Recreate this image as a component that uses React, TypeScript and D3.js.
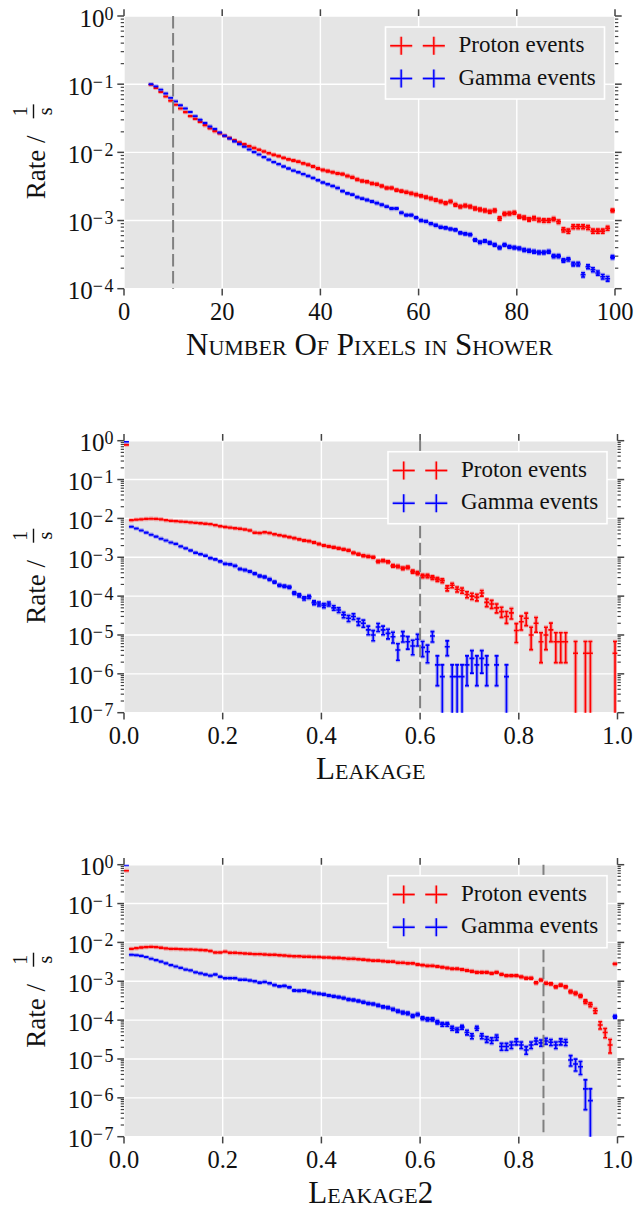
import React from "react";
import * as d3 from "d3";

const PROTON_COLOR = "#ff0000";
const GAMMA_COLOR = "#0000ff";
const BG = "#e5e5e5";
const FONT = "'Liberation Serif', 'DejaVu Serif', serif";

// rate that corresponds to one recorded event (Poisson error bars)
const protonEventRate = 3.37e-6;
const gammaEventRate = 8.5e-7;

// ---------- Panel 1: Number of pixels in shower (bins of width 1, starting at 5) ----------
const pixelsBinStart = 5;
const pixelsBinWidth = 1;
const pixelsProton = [
  0.098, 0.088, 0.077, 0.066, 0.057, 0.05, 0.044, 0.039, 0.034, 0.031,
  0.028, 0.025, 0.0225, 0.0205, 0.019, 0.0175, 0.0162, 0.015, 0.014, 0.0131,
  0.0123, 0.0116, 0.0109, 0.0103, 0.0097, 0.0092, 0.0088, 0.0083, 0.0079, 0.0076,
  0.0073, 0.0069, 0.0066, 0.0062, 0.0058, 0.0055, 0.0053, 0.0051, 0.0049, 0.0048,
  0.0045, 0.0043, 0.004, 0.0038, 0.0037, 0.0035, 0.0034, 0.0032, 0.003, 0.003,
  0.0028, 0.0027, 0.0026, 0.0025, 0.0024, 0.0023, 0.0022, 0.0021, 0.002, 0.0019,
  0.0018, 0.0019, 0.0017, 0.0016, 0.00165, 0.0016, 0.0015, 0.00145, 0.0014, 0.00135,
  0.0014, 0.00107, 0.00125, 0.00127, 0.0013, 0.00114, 0.0011, 0.00104, 0.00108, 0.00102,
  0.001, 0.001, 0.00105, 0.00096, 0.00073, 0.0007, 0.00081, 0.00081, 0.00081, 0.00079,
  0.0007, 0.0007, 0.0007, 0.00077, 0.0014,
];
const pixelsGamma = [
  0.1, 0.093, 0.083, 0.073, 0.063, 0.056, 0.049, 0.044, 0.039, 0.034,
  0.03, 0.027, 0.024, 0.022, 0.0195, 0.0175, 0.016, 0.0145, 0.0132, 0.0121,
  0.011, 0.0101, 0.0093, 0.0085, 0.0078, 0.0072, 0.0067, 0.0062, 0.0058, 0.0054,
  0.0051, 0.0048, 0.0045, 0.0042, 0.0039, 0.0036, 0.0034, 0.0032, 0.003, 0.0027,
  0.0025, 0.0024, 0.0022, 0.0021, 0.002, 0.0019, 0.0018, 0.0017, 0.0016, 0.0015,
  0.0015, 0.0013, 0.0012, 0.0012, 0.0011, 0.001, 0.00097, 0.0009, 0.00085, 0.0008,
  0.00078, 0.00075, 0.00073, 0.00066, 0.00064, 0.00062, 0.00052, 0.00048, 0.0005, 0.00047,
  0.00044, 0.0004, 0.00044, 0.00041, 0.0004, 0.00039, 0.00037, 0.00036, 0.00035, 0.00034,
  0.00034, 0.00035, 0.0003, 0.0003, 0.00026, 0.00027, 0.00023, 0.00023, 0.00016, 0.00021,
  0.00019, 0.00017, 0.00015, 0.00014, 0.00029,
];

// ---------- Panel 2: Leakage (bins of width 0.01 from 0 to 1) ----------
const leakageBinStart = 0;
const leakageBinWidth = 0.01;
const leakageProton = [
  0.78, 0.009, 0.0093, 0.0095, 0.0097, 0.0098, 0.0097, 0.0095, 0.009, 0.0087,
  0.0085, 0.0083, 0.0081, 0.0079, 0.0077, 0.0075, 0.0073, 0.0071, 0.0067, 0.0063,
  0.006, 0.0058, 0.0056, 0.0054, 0.0052, 0.0049, 0.0043, 0.0042, 0.0044, 0.0042,
  0.0039, 0.0037, 0.0035, 0.0033, 0.0031, 0.0029, 0.0027, 0.0026, 0.0024, 0.0022,
  0.002, 0.0019, 0.0018, 0.0017, 0.0016, 0.0015, 0.0013, 0.0012, 0.0011, 0.00105,
  0.001, 0.00078, 0.00082, 0.00076, 0.0006, 0.00058, 0.00052, 0.00055, 0.00043, 0.00039,
  0.00033, 0.00033, 0.0003, 0.00027, 0.00025, 0.00016, 0.00019, 0.00015, 0.00014, 0.00011,
  0.0001, 0.000093, 0.00012, 0.000069, 0.000063, 0.00005, 0.00004, 0.00003, 0.000037, 0.000013,
  0.000022, 0.000027, 0.00001, 0.00002, 0.0000067, 0.00001, 0.0000135, 0.0000067, 0.0000067, 0.0000067,
  0, 0.0000034, 0, 0.0000034, 0.0000034, 0, 0, 0, 0, 0.0000034,
];
const leakageGamma = [
  0.94, 0.0061, 0.0055, 0.0049, 0.0043, 0.0038, 0.0034, 0.003, 0.0027, 0.0024,
  0.0022, 0.0019, 0.0017, 0.0015, 0.0013, 0.0012, 0.0011, 0.00095, 0.00088, 0.00078,
  0.00068, 0.00066, 0.0006, 0.0005, 0.00047, 0.00043, 0.00038, 0.00033, 0.00031, 0.00027,
  0.00023, 0.00019, 0.00018, 0.00017, 0.00012, 0.000105, 0.000088, 0.000096, 0.000068, 0.000063,
  0.000057, 0.000063, 0.00005, 0.000044, 0.000033, 0.000027, 0.00003, 0.000022, 0.00002, 0.0000135,
  0.00001, 0.000016, 0.0000135, 0.000011, 0.000009, 0.0000041, 0.0000094, 0.0000067, 0.0000052, 0.0000078,
  0.0000048, 0.0000037, 0.0000094, 0.0000017, 0.00000085, 0.000005, 0.00000085, 0.00000085, 0.00000085, 0.0000017,
  0.0000025, 0.0000017, 0.0000025, 0.0000017, 0, 0.0000017, 0, 0.00000085, 0, 0,
  0, 0, 0, 0, 0, 0, 0, 0, 0, 0,
  0, 0, 0, 0, 0, 0, 0, 0, 0, 0,
];

// ---------- Panel 3: Leakage2 (bins of width 0.01 from 0 to 1) ----------
const leakage2Proton = [
  0.7, 0.0068, 0.0071, 0.0074, 0.0076, 0.0077, 0.0076, 0.0073, 0.007, 0.0068,
  0.0068, 0.0067, 0.0066, 0.0066, 0.0065, 0.0064, 0.0063, 0.006, 0.0055, 0.0055,
  0.0058, 0.0054, 0.0054, 0.0053, 0.0052, 0.0051, 0.005, 0.005, 0.0049, 0.0048,
  0.0048, 0.0047, 0.0046, 0.0045, 0.0044, 0.0044, 0.0043, 0.0043, 0.0042, 0.0042,
  0.0041, 0.0041, 0.004, 0.004, 0.0039, 0.0038, 0.0038, 0.0037, 0.0036, 0.0035,
  0.0034, 0.0034, 0.0033, 0.0032, 0.0032, 0.003, 0.003, 0.0029, 0.0029, 0.0027,
  0.0026, 0.0025, 0.0025, 0.0024, 0.0023, 0.0022, 0.0021, 0.0021, 0.002, 0.0019,
  0.0018, 0.0017, 0.0017, 0.0017, 0.0016, 0.0017, 0.0015, 0.0014, 0.0014, 0.0014,
  0.0013, 0.0012, 0.0012, 0.00092, 0.00108, 0.00089, 0.00086, 0.00072, 0.0008, 0.00072,
  0.00054, 0.00049, 0.00042, 0.0003, 0.00025, 0.000175, 0.000075, 0.000048, 0.000023, 0.0028,
];
const leakage2Gamma = [
  0.98, 0.0048, 0.0047, 0.0045, 0.0042, 0.0038, 0.0035, 0.0032, 0.0029, 0.0026,
  0.0024, 0.0022, 0.002, 0.0019, 0.0017, 0.0016, 0.0015, 0.0014, 0.0015, 0.0013,
  0.0012, 0.0012, 0.0012, 0.0011, 0.0011, 0.00105, 0.001, 0.00092, 0.00096, 0.00089,
  0.0008, 0.00074, 0.00076, 0.0007, 0.00058, 0.00057, 0.00058, 0.00054, 0.0005, 0.00048,
  0.00046, 0.00043, 0.00041, 0.00039, 0.00037, 0.00034, 0.00033, 0.00031, 0.00029, 0.00027,
  0.00026, 0.00024, 0.00022, 0.00021, 0.00019, 0.00017, 0.000156, 0.00015, 0.000128, 0.00014,
  0.000112, 0.000105, 0.000105, 0.000089, 0.000078, 0.000078, 0.000062, 0.000056, 0.000066, 0.000048,
  0.000039, 0.000062, 0.000039, 0.000032, 0.00003, 0.000036, 0.000021, 0.000021, 0.000023, 0.000028,
  0.000023, 0.000017, 0.000023, 0.000029, 0.000026, 0.000029, 0.000027, 0.000023, 0.000028, 0.000027,
  0.0000094, 0.0000074, 0.0000063, 0.0000017, 0.00000085, 0, 0, 0, 0, 0.000123,
];

const pixelsXTicks = [0, 20, 40, 60, 80, 100];
const leakageXTicks = [0, 0.2, 0.4, 0.6, 0.8, 1.0];
const legendLabels = ["Proton events", "Gamma events"];

type PanelCfg = {
  box: { left: number; right: number; top: number; bottom: number };
  xDomain: [number, number];
  xTicks: number[];
  xFormat: (v: number) => string;
  minExp: number;
  binStart: number;
  binWidth: number;
  proton: number[];
  gamma: number[];
  cut: number;
  xLabel: string;
};

const panels: PanelCfg[] = [
  {
    box: { left: 124, right: 615, top: 16, bottom: 288.7 },
    xDomain: [0, 100],
    xTicks: pixelsXTicks,
    xFormat: (v) => d3.format("d")(v),
    minExp: -4,
    binStart: pixelsBinStart,
    binWidth: pixelsBinWidth,
    proton: pixelsProton,
    gamma: pixelsGamma,
    cut: 10,
    xLabel: "Number Of Pixels in Shower",
  },
  {
    box: { left: 124, right: 617.5, top: 440.7, bottom: 712.7 },
    xDomain: [0, 1],
    xTicks: leakageXTicks,
    xFormat: (v) => d3.format(".1f")(v),
    minExp: -7,
    binStart: leakageBinStart,
    binWidth: leakageBinWidth,
    proton: leakageProton,
    gamma: leakageGamma,
    cut: 0.6,
    xLabel: "Leakage",
  },
  {
    box: { left: 124, right: 617.5, top: 864.7, bottom: 1136.7 },
    xDomain: [0, 1],
    xTicks: leakageXTicks,
    xFormat: (v) => d3.format(".1f")(v),
    minExp: -7,
    binStart: leakageBinStart,
    binWidth: leakageBinWidth,
    proton: leakage2Proton,
    gamma: leakage2Gamma,
    cut: 0.85,
    xLabel: "Leakage2",
  },
];

function seriesPath(
  values: number[],
  binStart: number,
  binWidth: number,
  eventRate: number,
  x: d3.ScaleLinear<number, number>,
  y: d3.ScaleLogarithmic<number, number>,
  bottom: number
) {
  const p = d3.path();
  const cap = 2;
  values.forEach((v, i) => {
    if (!(v > 0)) return;
    const lo = binStart + i * binWidth;
    const hi = lo + binWidth;
    const cx = x((lo + hi) / 2);
    const err = Math.sqrt(v * eventRate);
    const yv = y(v);
    const yTop = y(v + err);
    const lowV = v - err;
    const yBot = lowV > 0 ? y(lowV) : bottom + 20;
    p.moveTo(x(lo), yv);
    p.lineTo(x(hi), yv);
    p.moveTo(cx, yTop);
    p.lineTo(cx, yBot);
    p.moveTo(cx - cap, yTop);
    p.lineTo(cx + cap, yTop);
    if (lowV > 0) {
      p.moveTo(cx - cap, yBot);
      p.lineTo(cx + cap, yBot);
    }
  });
  return p.toString();
}

function Panel({ cfg, idx }: { cfg: PanelCfg; idx: number }) {
  const { left, right, top, bottom } = cfg.box;
  const x = d3.scaleLinear().domain(cfg.xDomain).range([left, right]);
  const y = d3.scaleLog().domain([Math.pow(10, cfg.minExp), 1]).range([bottom, top]);
  const majors = d3.range(cfg.minExp, 1).map((e) => Math.pow(10, e));
  const minors: number[] = [];
  d3.range(cfg.minExp, 0).forEach((e) => {
    for (let m = 2; m <= 9; m++) minors.push(m * Math.pow(10, e));
  });
  const clipId = `clip-${idx}`;
  const tickColor = "#444";
  const majLen = 6.7;
  const minLen = 3.3;

  const series = [
    { values: cfg.proton, color: PROTON_COLOR, rate: protonEventRate },
    { values: cfg.gamma, color: GAMMA_COLOR, rate: gammaEventRate },
  ];

  const lgW = 219;
  const lgH = 72;
  const lgX = right - 10.5 - lgW;
  const lgY = top + 11;

  const midY = (top + bottom) / 2;

  return (
    <g>
      <defs>
        <clipPath id={clipId}>
          <rect x={left} y={top} width={right - left} height={bottom - top} />
        </clipPath>
      </defs>
      <rect x={left} y={top} width={right - left} height={bottom - top} fill={BG} />
      {/* grid */}
      {cfg.xTicks.map((t) => (
        <line key={`gx${t}`} x1={x(t)} x2={x(t)} y1={top} y2={bottom} stroke="#fff" strokeWidth={1.4} />
      ))}
      {majors.map((t) => (
        <line key={`gy${t}`} x1={left} x2={right} y1={y(t)} y2={y(t)} stroke="#fff" strokeWidth={1.4} />
      ))}
      {/* data */}
      <g clipPath={`url(#${clipId})`} fill="none">
        {series.map((s, i) => {
          const d = seriesPath(s.values, cfg.binStart, cfg.binWidth, s.rate, x, y, bottom);
          return (
            <g key={i}>
              <path d={d} stroke={s.color} strokeWidth={3.8} strokeOpacity={0.28} />
              <path d={d} stroke={s.color} strokeWidth={1.6} />
            </g>
          );
        })}
      </g>
      {/* cut line */}
      <line
        x1={x(cfg.cut)}
        x2={x(cfg.cut)}
        y1={top}
        y2={bottom}
        stroke="#808080"
        strokeWidth={2}
        strokeDasharray="12.5 4.5"
      />
      {/* legend */}
      <g>
        <rect x={lgX} y={lgY} width={lgW} height={lgH} fill={BG} stroke="#fff" strokeWidth={1.6} />
        {legendLabels.map((lab, i) => {
          const color = i === 0 ? PROTON_COLOR : GAMMA_COLOR;
          const cy = lgY + 18.8 + i * 32.7;
          return (
            <g key={lab}>
              {[lgX + 15.7, lgX + 48.3].map((cx, j) => (
                <g key={j} stroke={color} fill="none">
                  <path d={`M${cx - 11},${cy}H${cx + 11}M${cx},${cy - 9}V${cy + 9}`} strokeWidth={3.2} strokeOpacity={0.25} />
                  <path d={`M${cx - 11},${cy}H${cx + 11}M${cx},${cy - 9}V${cy + 9}`} strokeWidth={1.4} />
                </g>
              ))}
              <text x={lgX + 73} y={lgY + 25 + i * 32.7} fontSize={23} fill="#111" fontFamily={FONT}>
                {lab}
              </text>
            </g>
          );
        })}
      </g>
      {/* x ticks (bottom and top) */}
      {cfg.xTicks.map((t) => (
        <g key={`xt${t}`}>
          <line x1={x(t)} x2={x(t)} y1={bottom} y2={bottom + majLen} stroke={tickColor} strokeWidth={1.5} />
          <line x1={x(t)} x2={x(t)} y1={top} y2={top - majLen} stroke={tickColor} strokeWidth={1.5} />
          <text x={x(t)} y={bottom + 31.5} textAnchor="middle" fontSize={24.5} fill="#111" fontFamily={FONT}>
            {cfg.xFormat(t)}
          </text>
        </g>
      ))}
      {/* y ticks (left and right) */}
      {majors.map((t) => {
        const e = Math.round(Math.log10(t));
        return (
          <g key={`yt${t}`}>
            <line x1={left - majLen} x2={left} y1={y(t)} y2={y(t)} stroke={tickColor} strokeWidth={1.5} />
            <line x1={right} x2={right + majLen} y1={y(t)} y2={y(t)} stroke={tickColor} strokeWidth={1.5} />
            <text x={left - 9} y={y(t) + 10.5} textAnchor="end" fontSize={25} fill="#111" fontFamily={FONT}>
              10
              <tspan fontSize={18} dy={-7} letterSpacing={1.5}>
                {e < 0 ? `\u2212${-e}` : `${e}`}
              </tspan>
            </text>
          </g>
        );
      })}
      {minors.map((t, i) => (
        <g key={`ym${i}`}>
          <line x1={left - minLen} x2={left} y1={y(t)} y2={y(t)} stroke={tickColor} strokeWidth={1.2} />
          <line x1={right} x2={right + minLen} y1={y(t)} y2={y(t)} stroke={tickColor} strokeWidth={1.2} />
        </g>
      ))}
      {/* x label */}
      <text
        x={(left + right) / 2}
        y={bottom + 66}
        textAnchor="middle"
        fontSize={31}
        fill="#111"
        fontFamily={FONT}
        style={{ fontVariant: "small-caps" }}
      >
        {cfg.xLabel}
      </text>
      {/* y label */}
      <g transform={`translate(45, ${midY + 47}) rotate(-90)`} fill="#111" fontFamily={FONT}>
        <text x={0} y={0} fontSize={27}>
          Rate /
        </text>
        <text x={88} y={-18} fontSize={20} textAnchor="middle">
          1
        </text>
        <line x1={81} x2={95} y1={-11.5} y2={-11.5} stroke="#111" strokeWidth={1.4} />
        <text x={88} y={7} fontSize={20} textAnchor="middle">
          s
        </text>
      </g>
    </g>
  );
}

export default function App() {
  return (
    <svg
      width={637}
      height={1209}
      viewBox="0 0 637 1209"
      style={{ position: "absolute", left: 0, top: 0, background: "#fff" }}
    >
      <rect x={0} y={0} width={637} height={1209} fill="#fff" />
      {panels.map((p, i) => (
        <Panel key={i} cfg={p} idx={i} />
      ))}
    </svg>
  );
}
